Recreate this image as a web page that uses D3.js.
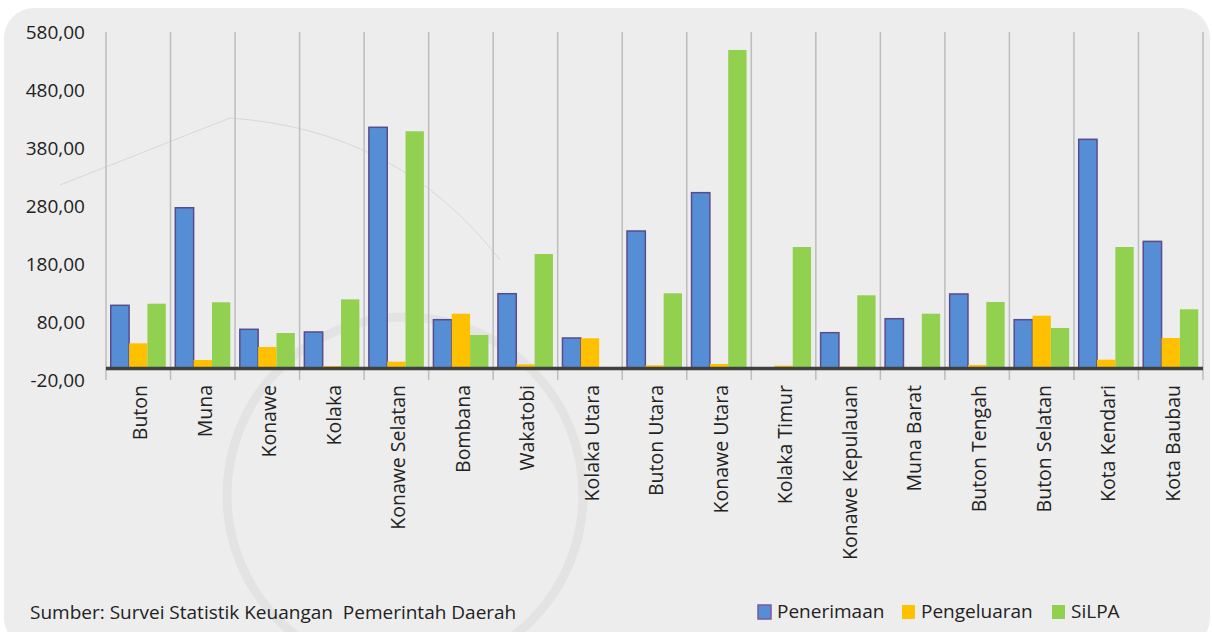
<!DOCTYPE html>
<html><head><meta charset="utf-8">
<script src="https://cdn.jsdelivr.net/npm/d3@7"></script>
<style>body{margin:0;background:#fff;}svg{display:block;font-family:"Open Sans","Noto Sans",sans-serif;}</style>
</head><body><svg id="c" width="1212" height="632"></svg>
<script>
const categories = ["Buton","Muna","Konawe","Kolaka","Konawe Selatan","Bombana","Wakatobi","Kolaka Utara","Buton Utara","Konawe Utara","Kolaka Timur","Konawe Kepulauan","Muna Barat","Buton Tengah","Buton Selatan","Kota Kendari","Kota Baubau"];
const penerimaan  = [108.8,277,67.4,62.8,415.7,84,128.8,52.4,236.9,303,0,61.6,85.7,128.3,84,395,219];
const pengeluaran = [43.3,14.5,36.9,4,11.6,94.3,7,51.9,5.3,7.6,4.7,3,0,5.9,90.9,15,52.4];
const silpa       = [111.6,114,61,119,408.8,57.6,197.2,0,129.5,549,209.3,126,94.3,114.5,69.7,209.3,101.9];
const seriesNames = ["Penerimaan","Pengeluaran","SiLPA"];
const yTicks = [-20,80,180,280,380,480,580];
const sourceText = "Sumber: Survei Statistik Keuangan  Pemerintah Daerah";

const colors = ["#558ed5","#ffc000","#92d050"];
const svg = d3.select("#c");

// background panel
svg.append("rect").attr("x",4).attr("y",8).attr("width",1206).attr("height",640)
  .attr("rx",30).attr("fill","#ededed");

// faint watermark ring
svg.append("circle").attr("cx",405).attr("cy",495).attr("r",178)
  .attr("fill","none").attr("stroke","#e3e3e3").attr("stroke-width",9);
svg.append("path").attr("d","M60,185 L230,118 Q400,130 500,260")
  .attr("fill","none").attr("stroke","#d8d8d8").attr("stroke-width",1);

const x = d3.scaleBand().domain(categories).range([106,1203]).paddingInner(0).paddingOuter(0);
const y = d3.scaleLinear().domain([-20,580]).range([380,32]);
const x1 = d3.scaleBand().domain(seriesNames).range([0,x.bandwidth()]).paddingInner(0).paddingOuter(0.26);

// vertical gridlines at category boundaries
const bounds = categories.map(c=>x(c)).concat([x.range()[1]]);
svg.append("g").selectAll("line").data(bounds).join("line")
  .attr("x1",d=>d).attr("x2",d=>d).attr("y1",y(580)).attr("y2",y(-20))
  .attr("stroke","#bdbdbd").attr("stroke-width",1.5);

// y axis labels
const yAxis = d3.axisLeft(y).tickValues(yTicks).tickSize(0).tickPadding(0)
  .tickFormat(d=>d3.format(".2f")(d).replace(".",",").replace("\u2212","-"));
const ga = svg.append("g").attr("transform","translate(85,0)").call(yAxis);
ga.select(".domain").remove();
ga.selectAll("text").attr("font-size",19).attr("fill","#222").attr("font-family","'Open Sans',sans-serif");

const data = categories.map((c,i)=>({c, vals:[penerimaan[i],pengeluaran[i],silpa[i]]}));
const groups = svg.append("g").selectAll("g").data(data).join("g")
  .attr("transform",d=>`translate(${x(d.c)},0)`);
groups.selectAll("rect").data(d=>d.vals.map((v,k)=>({v,k})).filter(e=>e.v>0)).join("rect")
  .attr("x",d=>x1(seriesNames[d.k]))
  .attr("width",x1.bandwidth())
  .attr("y",d=>y(d.v))
  .attr("height",d=>y(0)-y(d.v))
  .attr("fill",d=>colors[d.k])
  .attr("stroke",d=>d.k===0?"#5a4b8c":"none")
  .attr("stroke-width",1.5);

// zero axis line
svg.append("line").attr("x1",106).attr("x2",1203).attr("y1",y(0)).attr("y2",y(0))
  .attr("stroke","#404040").attr("stroke-width",3.5);

// category labels
svg.append("g").selectAll("text").data(categories).join("text")
  .attr("transform",d=>`translate(${x(d)+x.bandwidth()/2+2},385) rotate(-90)`)
  .attr("text-anchor","end").attr("dy","0.35em").attr("font-size",19.5).attr("fill","#222")
  .text(d=>d);

// source
svg.append("text").attr("x",30).attr("y",619).attr("font-size",19).attr("fill","#222")
  .attr("xml:space","preserve").style("white-space","pre").text(sourceText);

// legend
const legX = [758,902,1052];
const lg = svg.append("g").selectAll("g").data(seriesNames).join("g")
  .attr("transform",(d,i)=>`translate(${legX[i]},605)`);
lg.append("rect").attr("width",13).attr("height",14)
  .attr("fill",(d,i)=>colors[i]).attr("stroke",(d,i)=>i===0?"#7a5a9a":"none").attr("stroke-width",1.5);
lg.append("text").attr("x",19).attr("y",13).attr("font-size",19).attr("fill","#222").text(d=>d);
</script></body></html>
